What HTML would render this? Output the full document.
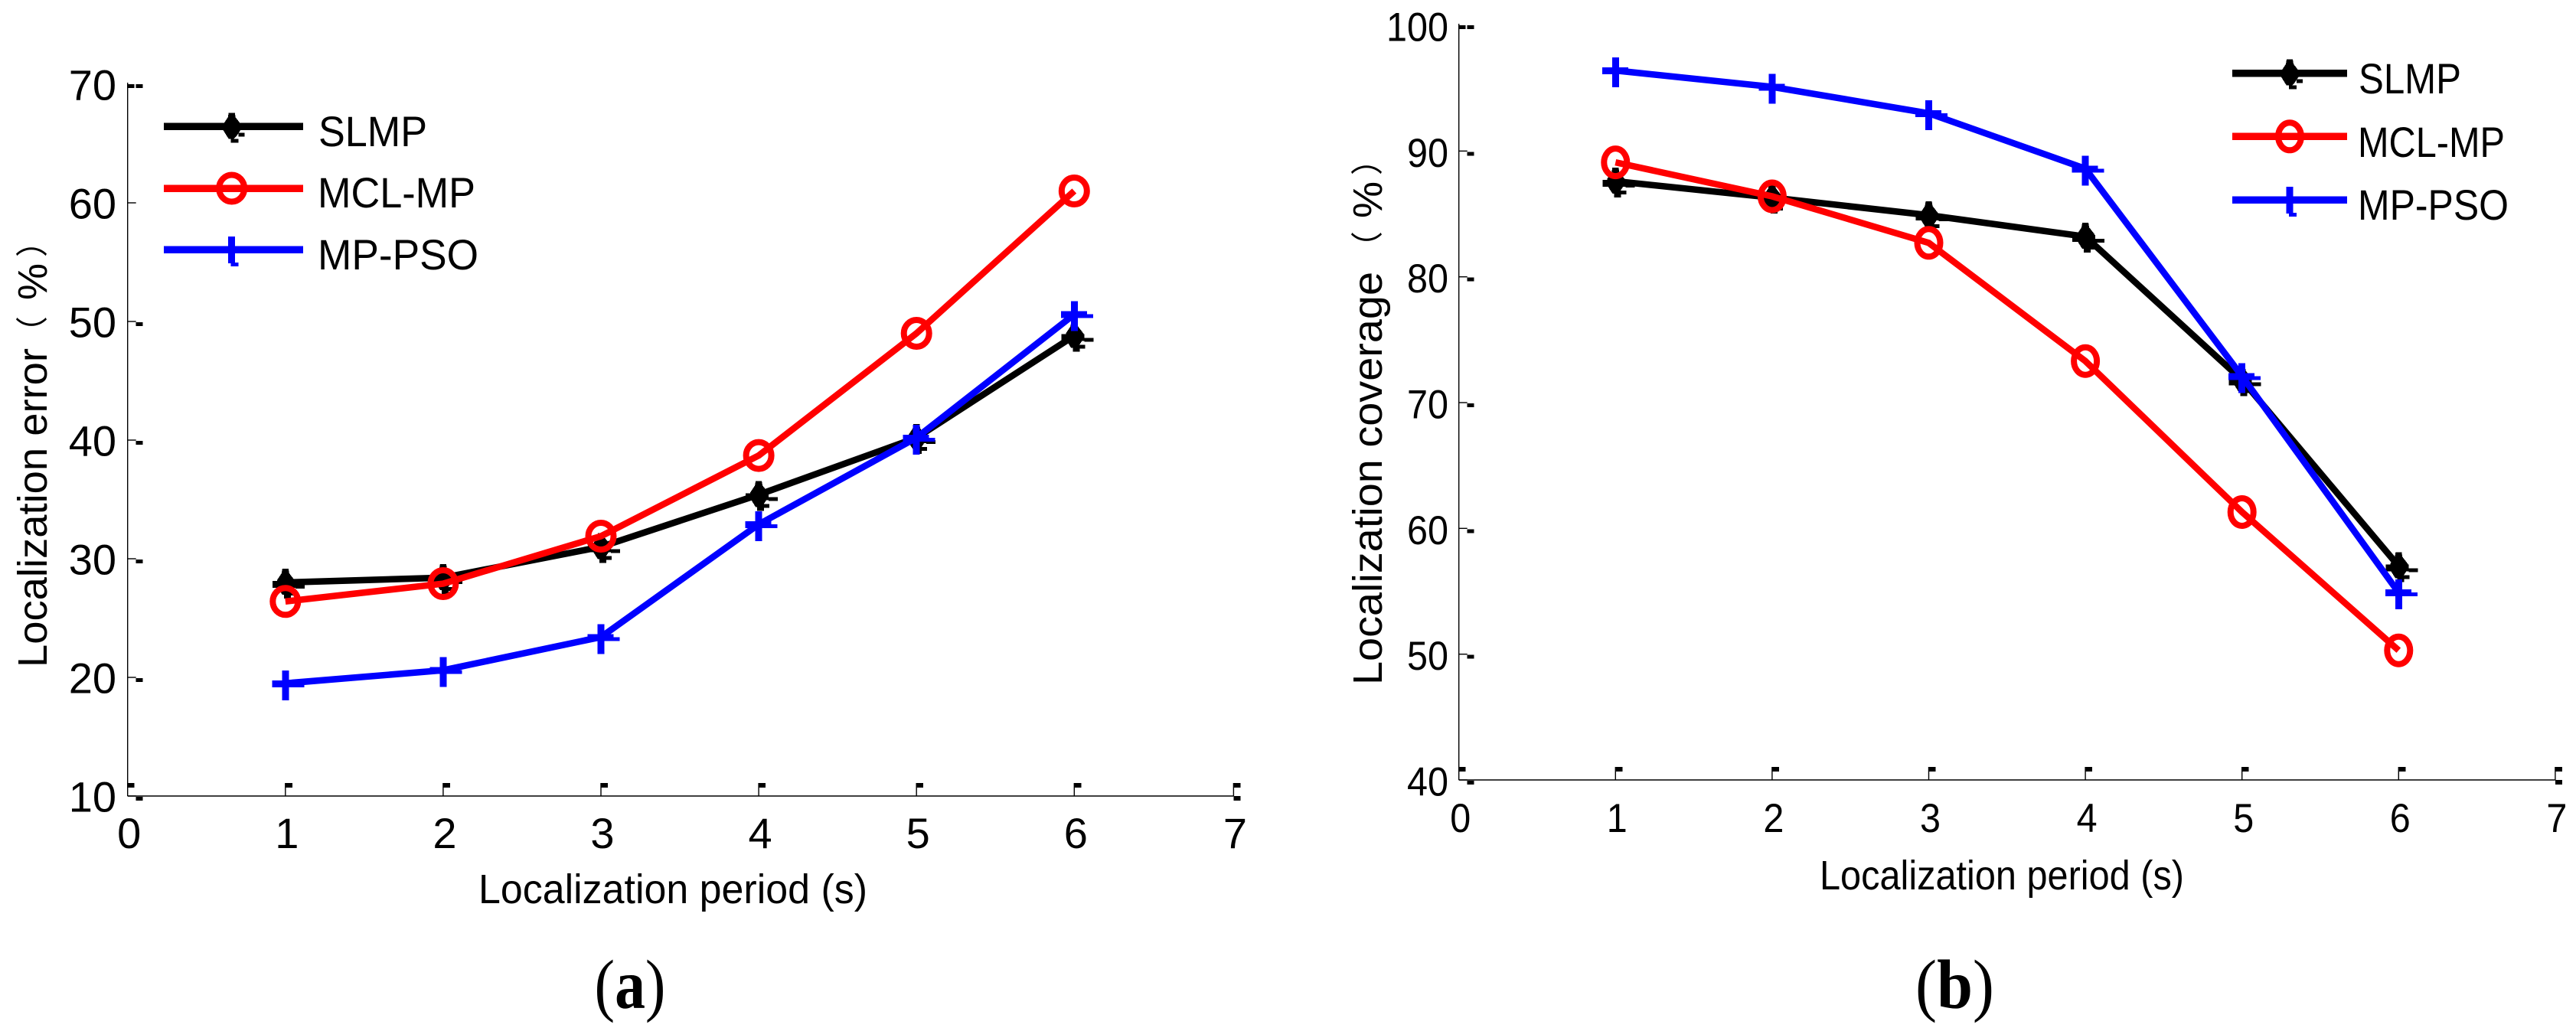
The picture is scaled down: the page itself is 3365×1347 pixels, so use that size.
<!DOCTYPE html>
<html lang="en">
<head>
<meta charset="utf-8">
<title>Localization error and coverage charts</title>
<style>
html,body{margin:0;padding:0;background:#fff;width:3365px;height:1347px;overflow:hidden}
svg{display:block}
text{font-family:"Liberation Sans","Noto Sans CJK SC",sans-serif;fill:#000}
.cjk{font-family:"Noto Sans CJK SC","Liberation Sans",sans-serif;font-size:42px}
.title{font-size:54px}
.legend{font-size:56px}
.cap{font-family:"Liberation Serif",serif;font-size:91px}
</style>
</head>
<body>
<svg id="figure" xmlns="http://www.w3.org/2000/svg" width="3365" height="1347" viewBox="0 0 3365 1347">
  <rect x="0" y="0" width="3365" height="1347" fill="#fff"/>

  <g id="panel-a">
    <g transform="translate(61,872) rotate(-90)">
      <text class="title" x="0" y="0" textLength="417" lengthAdjust="spacingAndGlyphs">Localization error</text>
      <text class="cjk" x="417" y="-4">（</text>
      <text class="title" x="480" y="0">%</text>
      <text class="cjk" x="536" y="-4">）</text>
    </g>
    <text class="title" x="625" y="1180" textLength="508" lengthAdjust="spacingAndGlyphs">Localization period (s)</text>
    <text class="cap" x="776.5" y="1317" textLength="93" lengthAdjust="spacingAndGlyphs">(<tspan font-weight="bold">a</tspan>)</text>
    <text class="legend" x="416" y="191" textLength="142" lengthAdjust="spacingAndGlyphs">SLMP</text>
    <text class="legend" x="415" y="271" textLength="206" lengthAdjust="spacingAndGlyphs">MCL-MP</text>
    <text class="legend" x="415" y="352" textLength="210" lengthAdjust="spacingAndGlyphs">MP-PSO</text>
  </g>

  <g id="panel-b">
    <g transform="translate(1805,895) rotate(-90)">
      <text class="title" x="0" y="0" textLength="540" lengthAdjust="spacingAndGlyphs">Localization coverage</text>
      <text class="cjk" x="551" y="-4">（</text>
      <text class="title" x="610" y="0">%</text>
      <text class="cjk" x="666" y="-4">）</text>
    </g>
    <text class="title" x="2377" y="1162" textLength="476" lengthAdjust="spacingAndGlyphs">Localization period (s)</text>
    <text class="cap" x="2502" y="1317" textLength="103" lengthAdjust="spacingAndGlyphs">(<tspan font-weight="bold">b</tspan>)</text>
    <text class="legend" x="3081" y="122" textLength="134" lengthAdjust="spacingAndGlyphs">SLMP</text>
    <text class="legend" x="3080" y="205" textLength="192" lengthAdjust="spacingAndGlyphs">MCL-MP</text>
    <text class="legend" x="3080" y="287" textLength="197" lengthAdjust="spacingAndGlyphs">MP-PSO</text>
  </g>
</svg>

<script>
// Chart data
const periods = [1, 2, 3, 4, 5, 6];
const xTickLabels = [0, 1, 2, 3, 4, 5, 6, 7];
const errorTickLabels = [10, 20, 30, 40, 50, 60, 70];
const coverageTickLabels = [40, 50, 60, 70, 80, 90, 100];

const slmpError = [28.0, 28.4, 31.0, 35.4, 40.2, 48.8];
const mclError = [26.4, 27.9, 31.9, 38.7, 49.0, 61.0];
const psoError = [19.5, 20.6, 23.4, 32.9, 40.2, 50.6];

const slmpCoverage = [87.6, 86.3, 84.9, 83.2, 71.8, 57.0];
const mclCoverage = [89.1, 86.4, 82.7, 73.3, 61.3, 50.3];
const psoCoverage = [96.4, 95.1, 93.0, 88.6, 72.1, 54.9];

const NS = 'http://www.w3.org/2000/svg';
const INK = '#000';
const RED = '#ff0000';
const BLUE = '#0000ff';

function make(tag, parent) {
  const node = document.createElementNS(NS, tag);
  parent.appendChild(node);
  return node;
}

function setAll(node, props) {
  for (const key in props) node.setAttribute(key, props[key]);
  return node;
}

function scaleX(panel, v) {
  return panel.x0 + (v - panel.xMin) * panel.xStep;
}

function scaleY(panel, v) {
  return panel.yBottom - (v - panel.yMin) * (panel.yBottom - panel.yTop) / (panel.yMax - panel.yMin);
}

function block(parent, x, y, w, h, fill) {
  const r = make('rect', parent);
  setAll(r, { x: x, y: y, width: w, height: h, fill: fill, 'shape-rendering': 'crispEdges' });
  
  
  return r;
}

function thin(parent, x1, y1, x2, y2) {
  const l = make('line', parent);
  setAll(l, { x1: x1, y1: y1, x2: x2, y2: y2, stroke: INK, 'stroke-width': 1.4 });
  
  
  return l;
}

function drawAxes(panel) {
  const g = make('g', panel.root);
  
  
  const left = scaleX(panel, 0);
  const right = scaleX(panel, 7) + panel.xEndNudge;
  thin(g, left, panel.yTop - 2, left, panel.yBottom);
  thin(g, left, panel.yBottom, right, panel.yBottom);

  xTickLabels.forEach(function (v) {
    const x = v === 7 ? right : scaleX(panel, v);
    if (v !== 0) thin(g, x, panel.yBottom, x, panel.yBottom - 17);
    block(g, x, panel.yBottom - 17, 9, 6, INK);
    if (v === 7) block(g, x, panel.yBottom, 9, 6, INK);
    const t = make('text', g);
    t.textContent = String(v);
    
    
    setAll(t, { y: panel.yBottom + 68, 'font-size': panel.tickFont });
    if (panel.tickAdvance) {
      setAll(t, { x: x + 2 - panel.tickAdvance / 2, textLength: panel.tickAdvance, lengthAdjust: 'spacingAndGlyphs' });
    } else {
      setAll(t, { x: x + 2, 'text-anchor': 'middle' });
    }
  });

  panel.yTicks.forEach(function (v, i) {
    const y = scaleY(panel, v);
    const isTop = i === panel.yTicks.length - 1;
    if (!isTop) thin(g, left, y, left + 11, y);
    if (!(panel.id === 'a' && v === 60)) block(g, left + 11, isTop ? y : y + 1, 9, 5, INK);
    if (isTop) block(g, left, y, 9, 5, INK);
    const t = make('text', g);
    t.textContent = String(v);
    
    
    setAll(t, { y: y + 20.5, 'font-size': panel.tickFont });
    if (panel.tickAdvance) {
      const len = String(v).length * panel.tickAdvance;
      setAll(t, { x: panel.yLabelRight - len, textLength: len, lengthAdjust: 'spacingAndGlyphs' });
    } else {
      setAll(t, { x: panel.yLabelRight, 'text-anchor': 'end' });
    }
  });
}

function appendRects(parent, color, list) {
  list.forEach(function (p) {
    const r = make('rect', parent);
    setAll(r, { x: p[0], y: p[1], width: p[2], height: p[3], fill: color, 'shape-rendering': 'crispEdges' });
    
    
  });
}

function drawMarker(parent, kind, x, y, rx, ry, inLegend) {
  const g = make('g', parent);
  
  
  g.setAttribute('transform', 'translate(' + x + ',' + y + ')');
  if (kind === 'slmp') {
    const d = make('polygon', g);
    setAll(d, { points: '-4,-18 4,-18 5,-12 12,-3 12,4 6,13 3,16 -4,16 -6,13 -11,5 -11,-3 -5,-12', fill: INK, 'shape-rendering': 'crispEdges' });
    
    
    if (inLegend) {
      appendRects(g, INK, [[9, 8, 8, 5], [-1, 16, 10, 5]]);
    } else {
      appendRects(g, INK, [[-17, -2, 30, 9], [13, 3, 12, 5], [4, 12, 10, 5], [-2, 14, 9, 7]]);
    }
  } else if (kind === 'mcl') {
    const c = make('ellipse', g);
    setAll(c, { cx: 0, cy: 0, rx: rx, ry: ry, fill: 'none', stroke: RED, 'stroke-width': 8 });
    
    
  } else {
    if (inLegend) {
      appendRects(g, BLUE, [[-4.5, -17, 9, 35], [-1, 17, 10, 5]]);
    } else {
      appendRects(g, BLUE, [[-17.5, -4, 34, 9], [16.5, 0, 8, 5], [-4.5, -17, 9, 39]]);
    }
  }
}

function drawSeries(panel, kind, color, values) {
  const g = make('g', panel.root);
  
  
  const pts = periods.map(function (p, i) {
    return scaleX(panel, p) + ',' + scaleY(panel, values[i]);
  }).join(' ');
  const line = make('polyline', g);
  setAll(line, { points: pts, fill: 'none', stroke: color, 'stroke-width': 8.5, 'stroke-linejoin': 'round', 'stroke-linecap': 'butt' });
  
  
  periods.forEach(function (p, i) {
    drawMarker(g, kind, scaleX(panel, p), scaleY(panel, values[i]), panel.rx, panel.ry, false);
  });
}

function drawLegend(panel) {
  const g = make('g', panel.root);
  
  
  const entries = [['slmp', INK, panel.legendY1], ['mcl', RED, panel.legendY2], ['pso', BLUE, panel.legendY3]];
  entries.forEach(function (e) {
    const l = make('line', g);
    setAll(l, { x1: panel.legendX1, x2: panel.legendX2, y1: e[2], y2: e[2], stroke: e[1], 'stroke-width': 9.5, 'shape-rendering': 'crispEdges' });
    
    
    drawMarker(g, e[0], panel.legendMarkerX, e[2], panel.rx, panel.ry, true);
  });
}

const panelA = {
  id: 'a', root: document.getElementById('panel-a'),
  xMin: 0, x0: 166.7, xStep: 206.1, xEndNudge: 2,
  yMin: 10, yMax: 70, yBottom: 1040, yTop: 110,
  yTicks: errorTickLabels, tickFont: 56, tickAdvance: 0, yLabelRight: 152,
  rx: 16.5, ry: 17.5,
  legendX1: 214, legendX2: 396, legendMarkerX: 302.7,
  legendY1: 165.3, legendY2: 246, legendY3: 326
};

const panelB = {
  id: 'b', root: document.getElementById('panel-b'),
  xMin: 0, x0: 1905.7, xStep: 204.6, xEndNudge: 0,
  yMin: 40, yMax: 100, yBottom: 1019, yTop: 33,
  yTicks: coverageTickLabels, tickFont: 53, tickAdvance: 27, yLabelRight: 1892,
  rx: 15, ry: 18,
  legendX1: 2916, legendX2: 3066, legendMarkerX: 2991,
  legendY1: 95.7, legendY2: 178.3, legendY3: 261
};

drawAxes(panelA);
drawSeries(panelA, 'slmp', INK, slmpError);
drawSeries(panelA, 'mcl', RED, mclError);
drawSeries(panelA, 'pso', BLUE, psoError);
drawLegend(panelA);

drawAxes(panelB);
drawSeries(panelB, 'slmp', INK, slmpCoverage);
drawSeries(panelB, 'mcl', RED, mclCoverage);
drawSeries(panelB, 'pso', BLUE, psoCoverage);
drawLegend(panelB);
</script>
</body>
</html>
